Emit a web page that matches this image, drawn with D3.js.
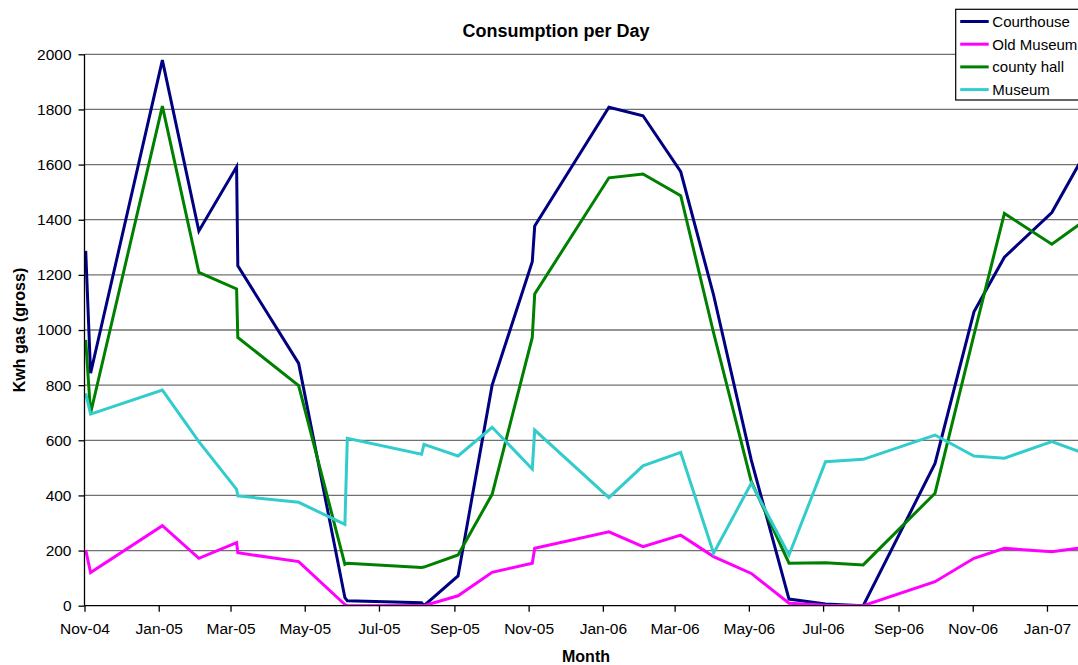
<!DOCTYPE html>
<html>
<head>
<meta charset="utf-8">
<script src="https://cdn.jsdelivr.net/npm/d3@7"></script>
<style>
  body { margin: 0; background: #fff; }
  #wrapper svg { display: block; font-family: "Liberation Sans", Arial, sans-serif; }
</style>
</head>
<body>
<div id="wrapper"></div>
<script>
// reading dates (the last one sits just past the cropped right edge)
const dates = [
  "2004-11-02", "2004-11-06", "2005-01-04", "2005-02-03", "2005-03-06", "2005-03-07",
  "2005-04-26", "2005-06-03", "2005-06-05", "2005-08-05", "2005-08-07", "2005-09-04",
  "2005-10-02", "2005-11-04", "2005-11-06", "2006-01-06", "2006-02-03", "2006-03-06",
  "2006-04-02", "2006-05-03", "2006-06-03", "2006-07-03", "2006-08-03", "2006-10-01",
  "2006-11-02", "2006-11-27", "2007-01-05", "2007-02-05"
];

const courthouse = [1287, 843, 1979, 1359, 1592, 1233, 879, 29, 18, 11, 0, 108,
  800, 1248, 1377, 1808, 1777, 1574, 1127, 528, 24, 6, 0, 516, 1066, 1264, 1426, 1670];
const oldMuseum = [202, 120, 290, 172, 229, 192, 160, 4, 0, 1, 0, 36,
  121, 154, 208, 268, 214, 256, 178, 117, 9, 2, 0, 87, 172, 208, 196, 214];
const countyHall = [964, 698, 1812, 1209, 1149, 973, 798, 150, 154, 139, 140, 184,
  404, 973, 1131, 1552, 1566, 1487, 990, 450, 154, 156, 148, 408, 982, 1423, 1311, 1410];
const museum = [770, 695, 782, 595, 422, 398, 375, 295, 607, 549, 585, 543,
  647, 496, 637, 392, 507, 556, 190, 444, 184, 522, 531, 619, 543, 535, 595, 545];

const seriesNames = ["Courthouse", "Old Museum", "county hall", "Museum"];
const seriesColors = ["#000080", "#ff00ff", "#008000", "#33cccc"];
const yTicks = [0, 200, 400, 600, 800, 1000, 1200, 1400, 1600, 1800, 2000];

function drawLineChart() {
  const dateParser = d3.timeParse("%Y-%m-%d");
  const seriesValues = [courthouse, oldMuseum, countyHall, museum];
  const series = seriesNames.map((name, i) => ({
    name,
    color: seriesColors[i],
    values: dates.map((d, j) => ({ date: dateParser(d), value: seriesValues[i][j] }))
  }));

  let dimensions = {
    width: 1078,
    height: 665,
    margin: {
      top: 54.3,
      right: 0,
      bottom: 59.3,
      left: 84.5,
    },
  }
  dimensions.boundedWidth = dimensions.width
    - dimensions.margin.left
    - dimensions.margin.right
  dimensions.boundedHeight = dimensions.height
    - dimensions.margin.top
    - dimensions.margin.bottom

  const wrapper = d3.select("#wrapper")
    .append("svg")
    .attr("width", dimensions.width)
    .attr("height", dimensions.height);

  const bounds = wrapper.append("g")
    .attr("transform", `translate(${dimensions.margin.left}, ${dimensions.margin.top})`);

  // x axis: Nov 1 2004 at left edge, picture is cropped at the right
  const xScale = d3.scaleTime()
    .domain([new Date(2004, 10, 1), new Date(2007, 0, 26, 12)])
    .range([0, dimensions.boundedWidth]);

  const yScale = d3.scaleLinear()
    .domain([0, 2000])
    .range([dimensions.boundedHeight, 0]);

  // gridlines
  bounds.append("g")
    .selectAll("line")
    .data(yTicks.filter(d => d > 0))
    .join("line")
    .attr("x1", 0)
    .attr("x2", dimensions.boundedWidth)
    .attr("y1", d => yScale(d))
    .attr("y2", d => yScale(d))
    .attr("stroke", "#707070")
    .attr("stroke-width", 1.3);

  // clip for the lines
  wrapper.append("defs").append("clipPath")
    .attr("id", "plot-clip")
    .append("rect")
    .attr("x", 0)
    .attr("y", -5)
    .attr("width", dimensions.boundedWidth)
    .attr("height", dimensions.boundedHeight + 5);

  const lineGenerator = d3.line()
    .x(d => xScale(d.date))
    .y(d => yScale(d.value));

  bounds.append("g")
    .attr("clip-path", "url(#plot-clip)")
    .selectAll("path")
    .data(series)
    .join("path")
    .attr("d", d => lineGenerator(d.values))
    .attr("fill", "none")
    .attr("stroke", d => d.color)
    .attr("stroke-width", 3)
    .attr("stroke-linejoin", "miter");

  // axes
  const yAxisGenerator = d3.axisLeft(yScale)
    .tickValues(yTicks)
    .tickSize(6)
    .tickPadding(7)
    .tickFormat(d3.format("d"));
  const yAxis = bounds.append("g").call(yAxisGenerator);

  const xAxisGenerator = d3.axisBottom(xScale)
    .ticks(d3.timeMonth.every(2))
    .tickSize(6)
    .tickPadding(11)
    .tickFormat(d3.timeFormat("%b-%y"));
  const xAxis = bounds.append("g")
    .attr("transform", `translate(0, ${dimensions.boundedHeight})`)
    .call(xAxisGenerator);

  [yAxis, xAxis].forEach(axis => {
    axis.select(".domain").attr("stroke", "#000").attr("stroke-width", 1.3);
    axis.selectAll(".tick line").attr("stroke", "#000").attr("stroke-width", 1.3);
    axis.selectAll(".tick text")
      .attr("fill", "#000")
      .style("font-size", "15.5px")
      .style("font-family", "'Liberation Sans', Arial, sans-serif");
  });
  yAxis.select(".domain").attr("d", `M0,${dimensions.boundedHeight}V0`);
  xAxis.select(".domain").attr("d", `M0,0H${dimensions.boundedWidth}`);

  // titles
  wrapper.append("text")
    .attr("x", 556)
    .attr("y", 37)
    .attr("text-anchor", "middle")
    .style("font-size", "18px")
    .style("font-weight", "bold")
    .text("Consumption per Day");

  wrapper.append("text")
    .attr("x", 586)
    .attr("y", 662)
    .attr("text-anchor", "middle")
    .style("font-size", "16px")
    .style("font-weight", "bold")
    .text("Month");

  wrapper.append("text")
    .attr("transform", `translate(25, ${dimensions.margin.top + dimensions.boundedHeight / 2}) rotate(-90)`)
    .attr("text-anchor", "middle")
    .style("font-size", "16px")
    .style("font-weight", "bold")
    .text("Kwh gas (gross)");

  // legend
  const legend = wrapper.append("g")
    .attr("transform", "translate(955.7, 9.3)");
  legend.append("rect")
    .attr("width", 160)
    .attr("height", 90.7)
    .attr("fill", "#fff")
    .attr("stroke", "#000")
    .attr("stroke-width", 1.2);
  const legendItems = legend.selectAll(".item")
    .data(series)
    .join("g")
    .attr("class", "item")
    .attr("transform", (d, i) => `translate(0, ${12.2 + i * 22.7})`);
  legendItems.append("line")
    .attr("x1", 4.5)
    .attr("x2", 33)
    .attr("stroke", d => d.color)
    .attr("stroke-width", 3);
  legendItems.append("text")
    .attr("x", 36.6)
    .attr("dy", "0.36em")
    .style("font-size", "15px")
    .text(d => d.name);
}

drawLineChart()
</script>
</body>
</html>
